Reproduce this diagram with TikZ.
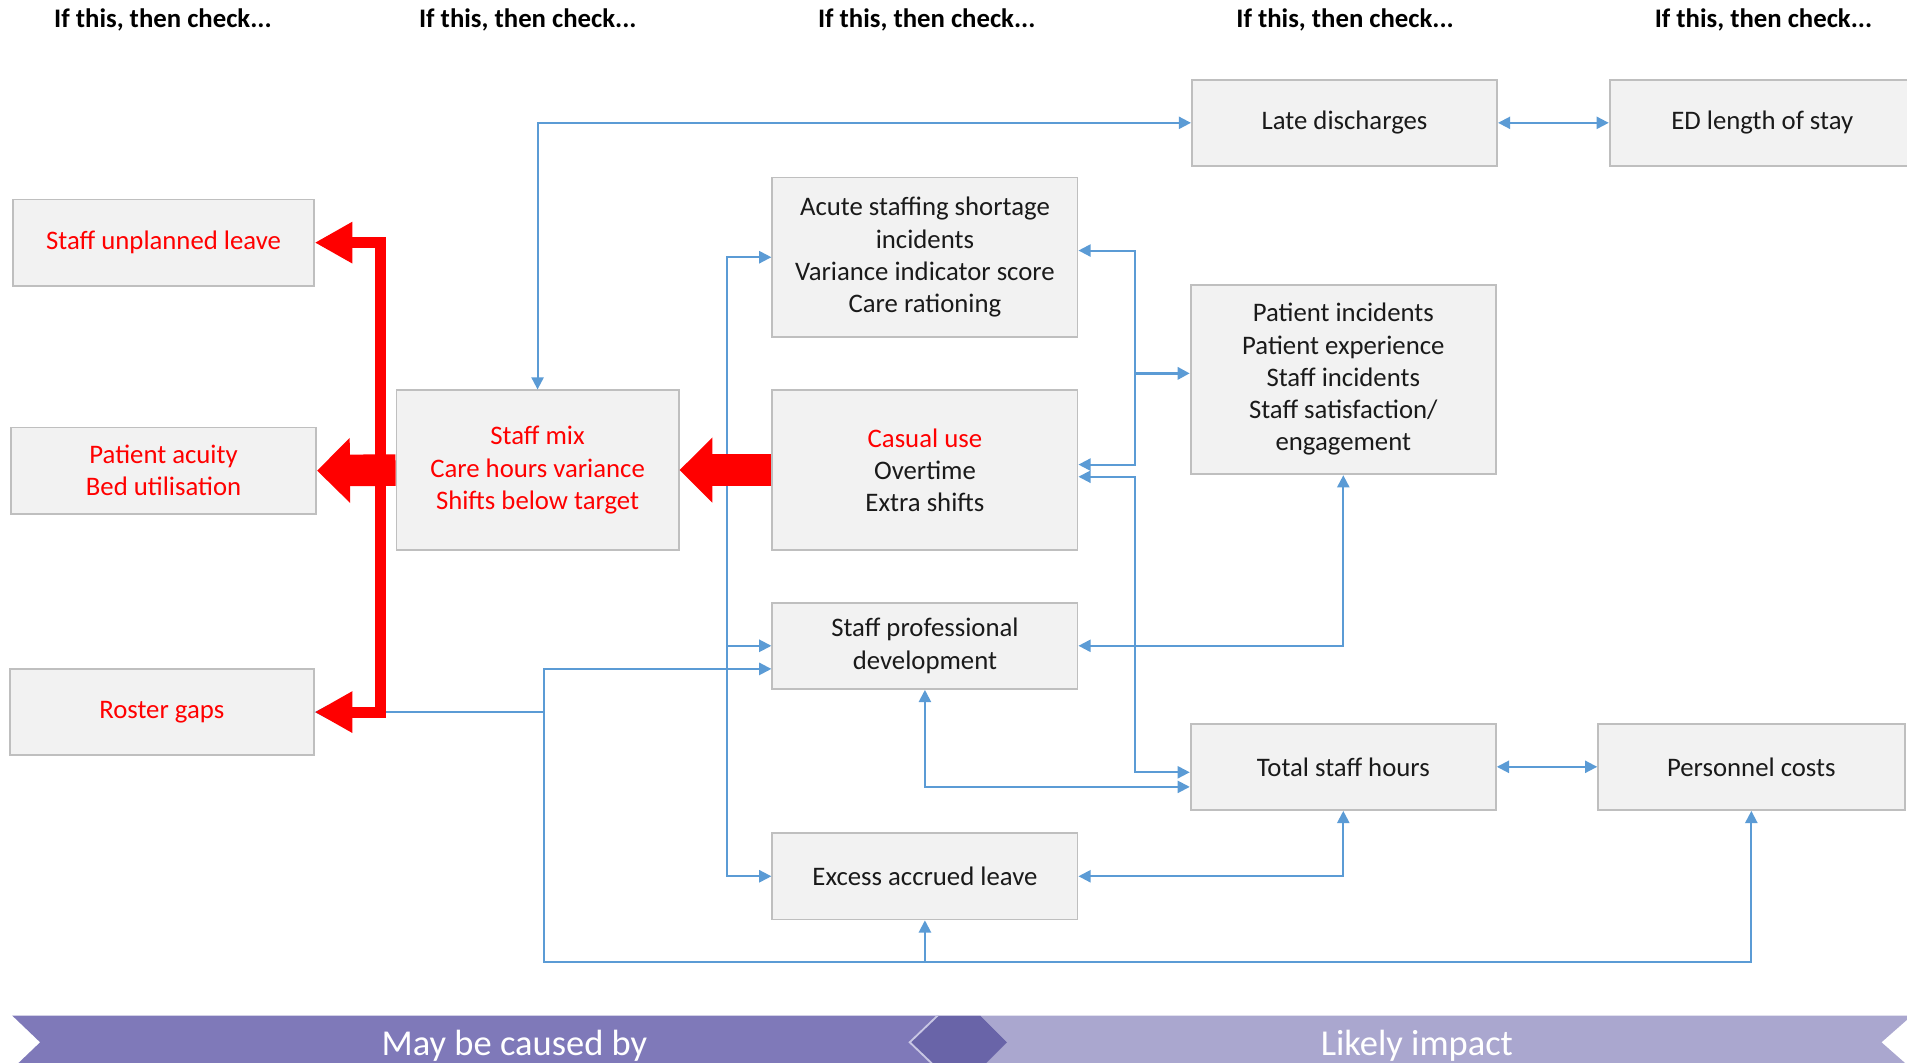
\documentclass[tikz,border=0pt]{standalone}
\usepackage{fontspec}
\setmainfont{Carlito}
\usetikzlibrary{arrows.meta}
\definecolor{boxfill}{HTML}{F2F2F2}
\definecolor{boxline}{HTML}{BFBFBF}
\definecolor{textdark}{HTML}{1A1A1A}
\definecolor{causered}{HTML}{FF0000}
\definecolor{linkblue}{HTML}{5B9BD5}
\definecolor{banleft}{HTML}{7F79B9}
\definecolor{banmid}{HTML}{6964A8}
\definecolor{banright}{HTML}{AAA7CF}
\definecolor{banedge}{HTML}{C9C7E4}
\newcommand\boxfont{\fontsize{22}{26.5}\selectfont}
\tikzset{box/.style={draw=boxline,fill=boxfill,line width=1.5pt,minimum width=251pt,minimum height=71pt,
    inner sep=0pt,align=center,text=textdark,font=\boxfont},
  cause/.style={box,text=causered},
  tall/.style={minimum height=131pt},
  head/.style={font=\boxfont\bfseries,text=black},
  link/.style={draw=linkblue,line width=1.6pt,>={Triangle[length=10pt,width=10pt]}},
  redblock/.style={draw=causered,line width=26pt,-{Triangle[length=27pt,width=52pt]}},
  redbar/.style={draw=causered,line width=9pt,line join=miter,
    {Triangle[length=31pt,width=32pt]}-{Triangle[length=31pt,width=32pt]}},
  bantext/.style={font=\fontsize{30}{36}\selectfont,text=white,anchor=base}}

\begin{document}
\begin{tikzpicture}[x=1pt,y=1pt]
  \useasboundingbox (0,0) rectangle (1568,-874);
  % column heads
  \foreach \cx in {134,434,762,1106,1450}{\node[head] (head\cx) at (\cx,-16) {If this, then check...};}
  % causes
  \node[cause,minimum width=247pt] (sul) at (134.5,-199.5) {Staff unplanned leave};
  \node[cause] (pa) at (134.5,-387) {Patient acuity\\Bed utilisation};
  \node[cause,minimum width=250pt] (rg) at (133,-585.5) {Roster gaps};
  \node[cause,tall,minimum width=232pt] (sm) at (442,-386.5) {Staff mix\\Care hours variance\\Shifts below target};
  % checks
  \node[box,tall] (asi) at (760.5,-211.5) {Acute staffing shortage\\incidents\\Variance indicator score\\Care rationing};
  \node[box,tall] (cu) at (760.5,-386.5) {\textcolor{causered}{Casual use}\\Overtime\\Extra shifts};
  \node[box] (spd) at (760.5,-531) {Staff professional\\development};
  \node[box] (eal) at (760.5,-720.5) {Excess accrued leave};
  \node[box] (ld) at (1105.5,-101) {Late discharges};
  \node[box] (ed) at (1449,-101) {ED length of stay};
  \node[box,minimum height=156pt] (pi) at (1104.5,-312) {Patient incidents\\Patient experience\\Staff incidents\\Staff satisfaction/\\engagement};
  \node[box] (tsh) at (1104.5,-630.5) {Total staff hours};
  \node[box,minimum width=252pt] (pc) at (1440,-630.5) {Personnel costs};
  % buses
  \coordinate (rbus) at (312.5,0);
  \coordinate (gbus) at (447,0);
  \coordinate (lbus) at (598,0);
  \coordinate (cbus) at (933,0);
  \coordinate (floor) at (0,-791);
  % blue links
  \draw[link,<->] (sm.north) |- (ld.west);
  \draw[link,<->] (ld) -- (ed);
  \foreach \n in {asi,spd,eal}{\draw[link,->] (cu.west -| lbus) |- (\n.west);}
  \draw[link,<->] ([yshift=5.5pt]asi.east) -| ([yshift=4.5pt]cu.east -| cbus) -- ([yshift=4.5pt]cu.east);
  \draw[link,->,line width=3pt] ([yshift=5pt]pi.west -| cbus) -- ([yshift=5pt]pi.west);
  \draw[link,<->] ([yshift=-5.5pt]cu.east) -| ([yshift=-4.5pt]tsh.west -| cbus) -- ([yshift=-4.5pt]tsh.west);
  \draw[link,<->] (pi.south) |- (spd.east);
  \draw[link,<->] (spd.south) |- ([yshift=-16.5pt]tsh.west);
  \draw[link,<->] (tsh) -- (pc);
  \draw[link,<->] (tsh.south) |- (eal.east);
  \draw[link,<->] (rg.east) -- (rg.east -| gbus) |- ([yshift=-19pt]spd.west);
  \draw[link,->] (rg.east -| gbus) -- (gbus |- floor) -| (pc.south);
  \draw[link,->] (eal.south |- floor) -- (eal.south);
  % red arrows
  \draw[redbar] (sul.east) -- (sul.east -| rbus) -- (rg.east -| rbus) -- (rg.east);
  \draw[redblock] (cu.west) -- (sm.east);
  \draw[redblock] (sm.west) -- (pa.east);
  % banner
  \fill[banleft] (10,-835) -- (771,-835) -- (748,-857) -- (771,-879) -- (10,-879) -- (33,-857) -- cycle;
  \fill[banright] (806,-835) -- (1572,-835) -- (1547,-857) -- (1572,-879) -- (806,-879) -- (828,-857) -- cycle;
  \fill[banmid] (771,-835) -- (806,-835) -- (828,-857) -- (806,-879) -- (771,-879) -- (748,-857) -- cycle;
  \draw[banedge,line width=1.5pt] (771,-835) -- (748,-857) -- (771,-879);
  \node[bantext] (causedby) at (423,-868) {May be caused by};
  \node[bantext] (impact) at (1165,-868) {Likely impact};
\end{tikzpicture}
\end{document}
